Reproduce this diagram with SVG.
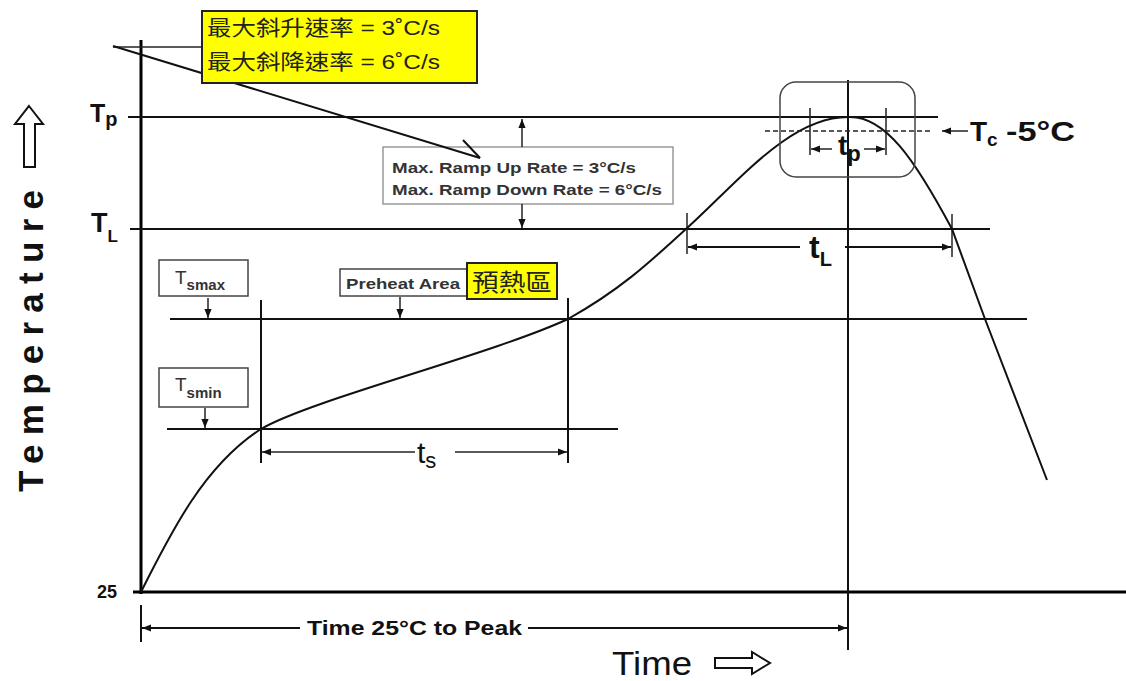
<svg xmlns="http://www.w3.org/2000/svg" width="1126" height="681" viewBox="0 0 1126 681">
<style>
.ln{stroke:#111;stroke-width:2;fill:none}
.thin{stroke:#222;stroke-width:1.5;fill:none}
.ax{stroke:#000;stroke-width:3;fill:none}
.lbl{font-family:"Liberation Sans",Arial,sans-serif;fill:#111}
.b{font-weight:bold}
.g{fill:#333}
.box{fill:#fff;stroke:#444;stroke-width:1.5}
.ybox{fill:#ffff00;stroke:#222;stroke-width:2}
.cjk{font-family:"Liberation Sans","Noto Sans CJK TC",sans-serif;fill:#222}
</style>
<defs>
<marker id="ah" viewBox="0 0 10 10" refX="10" refY="5" markerWidth="9" markerHeight="9" markerUnits="userSpaceOnUse" orient="auto-start-reverse">
<path d="M0,1 L10,5 L0,9 Z" fill="#111"/>
</marker>
</defs>
<rect width="1126" height="681" fill="#fff"/>

<g id="axes">
<line class="ax" x1="141" y1="40" x2="141" y2="594"/>
<line class="ax" x1="133" y1="592" x2="1126" y2="592"/>
<line class="ln" x1="848" y1="80" x2="848" y2="650"/>
<line class="ln" x1="141" y1="605" x2="141" y2="642"/>
</g>

<g id="levels">
<line class="ln" x1="128" y1="117" x2="938" y2="117"/>
<line class="ln" x1="130" y1="229" x2="990" y2="229"/>
<line class="ln" x1="170" y1="319" x2="1027" y2="319"/>
<line class="ln" x1="167" y1="429" x2="618" y2="429"/>
<line class="ln" x1="261" y1="300" x2="261" y2="463"/>
<line class="ln" x1="568" y1="298" x2="568" y2="463"/>
<line class="thin" x1="687" y1="213" x2="687" y2="254"/>
<line class="thin" x1="952" y1="214" x2="952" y2="257"/>
<line class="thin" x1="810" y1="108" x2="810" y2="155"/>
<line class="thin" x1="886" y1="108" x2="886" y2="155"/>
</g>

<g id="curve">
<path class="ln" d="M141,592 C172,530 205,465 261,429 C310,400 490,355 568,319 C620,290 650,262 686,229 C740,180 790,117 848,117 C885,115 915,160 952,229 L985,319 L1047,480"/>
</g>

<g id="peak-box">
<rect x="780" y="82" width="135" height="95" rx="16" fill="none" stroke="#444" stroke-width="1.5"/>
</g>

<g id="ramp-note">
<rect x="383" y="147" width="290" height="57" fill="#fff" stroke="#999" stroke-width="1.5"/>
<text class="lbl b g" x="392" y="173" font-size="15" textLength="244" lengthAdjust="spacingAndGlyphs">Max. Ramp Up Rate = 3°C/s</text>
<text class="lbl b g" x="392" y="195" font-size="15" textLength="270" lengthAdjust="spacingAndGlyphs">Max. Ramp Down Rate = 6°C/s</text>
</g>

<g id="connectors">
<line class="thin" x1="113" y1="47" x2="202" y2="47" stroke="#666"/>
<line class="ln" x1="113" y1="46" x2="480" y2="158"/>
<line class="ln" x1="480" y1="158" x2="463" y2="140"/>
<line class="thin" x1="522" y1="147" x2="522" y2="119" marker-end="url(#ah)"/>
<line class="thin" x1="522" y1="204" x2="522" y2="228" marker-end="url(#ah)"/>
<line class="thin" x1="208" y1="298" x2="208" y2="318" marker-end="url(#ah)"/>
<line class="thin" x1="205" y1="408" x2="205" y2="428" marker-end="url(#ah)"/>
<line class="thin" x1="400" y1="297" x2="400" y2="318" marker-end="url(#ah)"/>
<line class="thin" x1="415" y1="452" x2="262" y2="452" marker-end="url(#ah)"/>
<line class="thin" x1="455" y1="452" x2="567" y2="452" marker-end="url(#ah)"/>
<line class="ln" x1="800" y1="247" x2="688" y2="247" marker-end="url(#ah)"/>
<line class="ln" x1="845" y1="247" x2="951" y2="247" marker-end="url(#ah)"/>
<line class="thin" x1="832" y1="149" x2="811" y2="149" marker-end="url(#ah)"/>
<line class="thin" x1="864" y1="149" x2="885" y2="149" marker-end="url(#ah)"/>
<line x1="765" y1="131" x2="930" y2="131" stroke="#222" stroke-width="1.5" stroke-dasharray="5,3"/>
<line class="thin" x1="968" y1="131" x2="942" y2="131" marker-end="url(#ah)"/>
<line class="ln" x1="300" y1="628" x2="142" y2="628" marker-end="url(#ah)"/>
<line class="ln" x1="528" y1="628" x2="847" y2="628" marker-end="url(#ah)"/>
</g>

<g id="yellow-note">
<rect class="ybox" x="202" y="11" width="275" height="72"/>
<text class="cjk" x="207" y="35" font-size="21" textLength="233" lengthAdjust="spacingAndGlyphs">最大斜升速率 = 3˚C/s</text>
<text class="cjk" x="207" y="69" font-size="21" textLength="233" lengthAdjust="spacingAndGlyphs">最大斜降速率 = 6˚C/s</text>
</g>

<g id="tsmax">
<rect class="box" x="159" y="260" width="89" height="36"/>
<text class="lbl g" x="175" y="284" font-size="19">T<tspan class="b" font-size="15" dy="6">smax</tspan></text>
</g>

<g id="tsmin">
<rect class="box" x="159" y="368" width="89" height="39"/>
<text class="lbl g" x="175" y="391" font-size="19">T<tspan class="b" font-size="15" dy="7">smin</tspan></text>
</g>

<g id="preheat">
<rect class="box" x="340" y="269" width="127" height="27"/>
<text class="lbl b g" x="346" y="289" font-size="15" textLength="114" lengthAdjust="spacingAndGlyphs">Preheat Area</text>
<rect class="ybox" x="467" y="263" width="90" height="36"/>
<text class="cjk" x="472" y="291" font-size="24" textLength="80" lengthAdjust="spacingAndGlyphs">預熱區</text>
</g>

<g id="labels">
<text class="lbl b" x="90" y="122" font-size="25">T<tspan font-size="20" dy="4">p</tspan></text>
<text class="lbl b" x="91" y="232" font-size="27">T<tspan font-size="17" dy="10">L</tspan></text>
<text class="lbl b" x="97" y="598" font-size="18">25</text>
<text class="lbl" x="417" y="463" font-size="30">t<tspan font-size="22" dy="5">s</tspan></text>
<text class="lbl b" x="809" y="258" font-size="32">t<tspan font-size="20" dy="8">L</tspan></text>
<text class="lbl b" x="838" y="155" font-size="28">t<tspan font-size="22" dy="6">p</tspan></text>
<text class="lbl b" x="970" y="141" font-size="28">T<tspan font-size="19" dy="5">c</tspan></text>
<text class="lbl b" x="1006" y="141" font-size="28" textLength="69" lengthAdjust="spacingAndGlyphs">-5°C</text>
<text class="lbl b" x="307" y="635" font-size="20" textLength="215" lengthAdjust="spacingAndGlyphs">Time 25°C to Peak</text>
<text class="lbl" x="612" y="675" font-size="34" textLength="80" lengthAdjust="spacingAndGlyphs">Time</text>
<polygon points="715,658 752,658 752,652 770,663 752,674 752,668 715,668" fill="#fff" stroke="#111" stroke-width="2"/>
<text class="lbl b" transform="translate(43,492) rotate(-90)" font-size="35" textLength="302" lengthAdjust="spacing">Temperature</text>
<polygon points="29,106 43,124 35,124 35,167 24,167 24,124 15,124" fill="#fff" stroke="#111" stroke-width="2"/>
</g>
</svg>
